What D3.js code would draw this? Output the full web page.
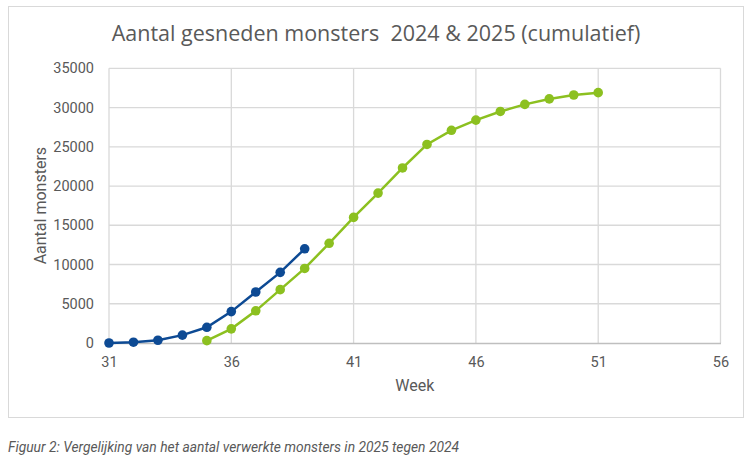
<!DOCTYPE html>
<html>
<head>
<meta charset="utf-8">
<script src="https://cdn.jsdelivr.net/npm/d3@7"></script>
<style>
  body { margin: 0; background: #fff; }
  text { font-family: Roboto, "Noto Sans", sans-serif; fill: #595959; }
</style>
</head>
<body>
<svg id="chart" width="750" height="462"></svg>
<script>
// Data
const weeks2024 = [31, 32, 33, 34, 35, 36, 37, 38, 39];
const values2024 = [0, 100, 350, 1000, 2000, 4000, 6500, 9000, 12000];

const weeks2025 = [35, 36, 37, 38, 39, 40, 41, 42, 43, 44, 45, 46, 47, 48, 49, 50, 51];
const values2025 = [300, 1800, 4100, 6800, 9500, 12700, 16000, 19100, 22300, 25300,
  27100, 28400, 29500, 30400, 31100, 31600, 31900];

const xTicks = [31, 36, 41, 46, 51, 56];
const yTicks = [0, 5000, 10000, 15000, 20000, 25000, 30000, 35000];

const title = "Aantal gesneden monsters  2024 & 2025 (cumulatief)";
const caption = "Figuur 2: Vergelijking van het aantal verwerkte monsters in 2025 tegen 2024";

const svg = d3.select("#chart");
const margin = { left: 109, right: 720.5, top: 68.3, bottom: 343 };

svg.append("rect")
  .attr("width", 750).attr("height", 462)
  .attr("fill", "#fff");

// chart frame
svg.append("rect")
  .attr("x", 8.5).attr("y", 6.5)
  .attr("width", 735).attr("height", 411)
  .attr("fill", "none")
  .attr("stroke", "#d9d9d9");

const x = d3.scaleLinear().domain([31, 56]).range([margin.left, margin.right]);
const y = d3.scaleLinear().domain([0, 35000]).range([margin.bottom, margin.top]);

// gridlines
svg.append("g")
  .selectAll("line.v")
  .data(xTicks)
  .enter()
  .append("line")
  .attr("x1", d => x(d)).attr("x2", d => x(d))
  .attr("y1", margin.top).attr("y2", margin.bottom)
  .attr("stroke", "#d9d9d9").attr("stroke-width", 1.3);

svg.append("g")
  .selectAll("line.h")
  .data(yTicks.filter(d => d > 0))
  .enter()
  .append("line")
  .attr("x1", margin.left).attr("x2", margin.right)
  .attr("y1", d => y(d)).attr("y2", d => y(d))
  .attr("stroke", "#d9d9d9").attr("stroke-width", 1.3);

// axes
const xAxis = d3.axisBottom(x).tickValues(xTicks).tickSize(0).tickPadding(14);
const gx = svg.append("g")
  .attr("transform", "translate(0," + margin.bottom + ")")
  .call(xAxis);
gx.select(".domain").attr("stroke", "#bfbfbf").attr("stroke-width", 1.3);
gx.selectAll("text").style("font-size", "14.5px").attr("fill", "#595959");

const yAxis = d3.axisLeft(y).tickValues(yTicks).tickFormat(d3.format("d"))
  .tickSize(0).tickPadding(15);
const gy = svg.append("g")
  .attr("transform", "translate(" + margin.left + ",0)")
  .call(yAxis);
gy.select(".domain").remove();
gy.selectAll("text").style("font-size", "14.5px").attr("fill", "#595959");

// titles
svg.append("text")
  .attr("x", 376).attr("y", 41)
  .attr("text-anchor", "middle")
  .attr("xml:space", "preserve")
  .style("font-family", "'Open Sans', sans-serif")
  .style("font-size", "21.5px")
  .text(title);

svg.append("text")
  .attr("x", (margin.left + margin.right) / 2).attr("y", 391)
  .attr("text-anchor", "middle")
  .style("font-size", "16px")
  .text("Week");

svg.append("text")
  .attr("transform", "translate(46," + (margin.top + margin.bottom) / 2 + ") rotate(-90)")
  .attr("text-anchor", "middle")
  .style("font-size", "16px")
  .text("Aantal monsters");

svg.append("text")
  .attr("x", 8).attr("y", 452)
  .attr("textLength", 451)
  .attr("lengthAdjust", "spacingAndGlyphs")
  .style("font-size", "14px")
  .style("font-style", "italic")
  .text(caption);

// series
const series = [
  { weeks: weeks2024, values: values2024, color: "#0d4a94" },
  { weeks: weeks2025, values: values2025, color: "#8cc020" }
];

const line = d3.line()
  .x(d => x(d[0]))
  .y(d => y(d[1]));

series.forEach(s => {
  const pts = s.weeks.map((w, i) => [w, s.values[i]]);
  svg.append("path")
    .datum(pts)
    .attr("d", line)
    .attr("fill", "none")
    .attr("stroke", s.color)
    .attr("stroke-width", 2.5);
  svg.append("g")
    .selectAll("circle")
    .data(pts)
    .enter()
    .append("circle")
    .attr("cx", d => x(d[0]))
    .attr("cy", d => y(d[1]))
    .attr("r", 4.8)
    .attr("fill", s.color);
});
</script>
</body>
</html>
